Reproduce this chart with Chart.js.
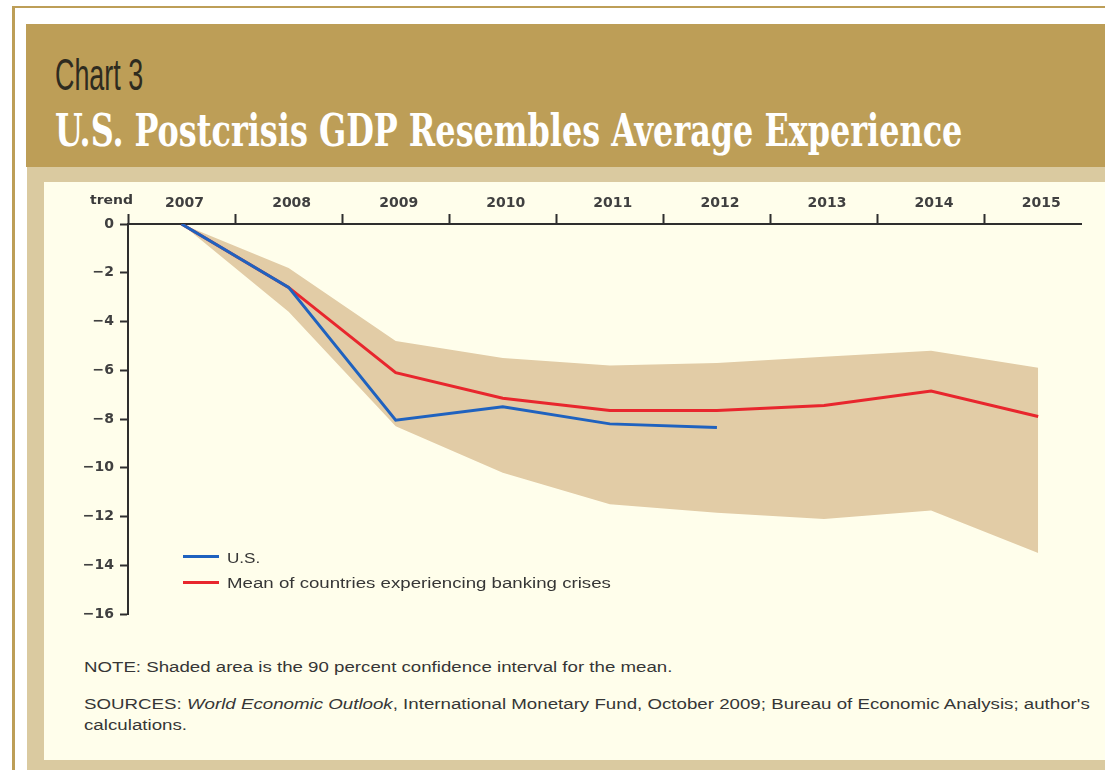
<!DOCTYPE html>
<html>
<head>
<meta charset="utf-8">
<title>Chart 3</title>
<script src="https://cdn.jsdelivr.net/npm/chart.js@4.4.1/dist/chart.umd.min.js"></script>
<style>
    html, body { margin: 0; padding: 0; }
    body { width: 1105px; height: 770px; position: relative; overflow: hidden; background: #ffffff; }
    .abs { position: absolute; }
    .rule-top { left: 12px; top: 6px; width: 1093px; height: 2px; background: #bd9e57; }
    .rule-left { left: 12px; top: 6px; width: 3px; height: 764px; background: #bd9e57; }
    .header { left: 26px; top: 24px; width: 1079px; height: 143px; background: #bd9e57; }
    .frame { left: 27px; top: 167px; width: 1078px; height: 603px; background: #dacaa0; }
    .panel { left: 44px; top: 182px; width: 1061px; height: 578px; background: #fffeeb; }
    .fit { display: inline-block; white-space: nowrap; transform-origin: 0 0; line-height: 1; }
    .kicker { left: 55px; top: 50px; font: 44px "Liberation Sans Narrow", "Liberation Sans", sans-serif; color: #2e2b1f; }
    .title { left: 55px; top: 104px; font: bold 45px "DejaVu Serif Condensed", "DejaVu Serif", serif; color: #ffffff; }
    .note { left: 84px; font: 14px "Liberation Sans", Arial, sans-serif; color: #363636; }
    .unit { left: 90px; top: 192px; font: bold 13px "DejaVu Sans", sans-serif; color: #3a3a3a; }
    .swatch { height: 3px; width: 36px; left: 183px; }
    #chart { left: 44px; top: 182px; }
</style>
</head>
<body>
<div class="abs rule-top"></div>
<div class="abs rule-left"></div>
<div class="abs header"></div>
<div class="abs frame"></div>
<div class="abs panel"></div>

<div class="abs fit kicker" data-w="88">Chart 3</div>
<div class="abs fit title" data-w="907">U.S. Postcrisis GDP Resembles Average Experience</div>

<canvas id="chart" class="abs" width="1061" height="450"></canvas>
<div class="abs fit unit" data-w="43">trend</div>
<div id="legend"></div>

<div class="abs fit note" style="top:659px" data-w="588">NOTE: Shaded area is the 90 percent confidence interval for the mean.</div>
<div class="abs fit note" style="top:696px" data-w="1006">SOURCES: <i>World Economic Outlook</i>, International Monetary Fund, October 2009; Bureau of Economic Analysis; author's</div>
<div class="abs fit note" style="top:717px" data-w="103">calculations.</div>

<script>
// Real GDP relative to pre-crisis trend, percent
const years = [2007, 2008, 2009, 2010, 2011, 2012, 2013, 2014, 2015];
const usGdp = [0, -2.6, -8.05, -7.5, -8.2, -8.35];
const crisisMean = [0, -2.6, -6.1, -7.15, -7.65, -7.65, -7.45, -6.85, -7.9];
const bandUpper = [0, -1.8, -4.8, -5.5, -5.8, -5.7, -5.45, -5.2, -5.9];
const bandLower = [0, -3.6, -8.3, -10.2, -11.5, -11.85, -12.1, -11.75, -13.5];
const yTicks = [0, -2, -4, -6, -8, -10, -12, -14, -16];

const seriesLabels = ['U.S.', 'Mean of countries experiencing banking crises'];
const usColor = '#1f62bf';
const meanColor = '#e8262d';
const bandColor = '#e2cca6';
const axisColor = '#2e2e2e';
const labelColor = '#404040';
const tickFont = { family: 'DejaVu Sans', size: 14, weight: 'bold' };

// year boundaries carry the tick marks, the years themselves carry the labels
const boundaries = years.map(y => y - 0.5);

function toPoints(values) {
    return values.map((v, i) => ({ x: years[i], y: v }));
}

const ctx = document.getElementById('chart').getContext('2d');
const chart = new Chart(ctx, {
    type: 'line',
    data: {
        datasets: [
            {
                label: seriesLabels[0],
                data: toPoints(usGdp),
                borderColor: usColor,
                borderWidth: 3,
                pointRadius: 0,
                tension: 0,
                fill: false,
                order: 0
            },
            {
                label: seriesLabels[1],
                data: toPoints(crisisMean),
                borderColor: meanColor,
                borderWidth: 3,
                pointRadius: 0,
                tension: 0,
                fill: false,
                order: 1
            },
            {
                label: 'upper',
                data: toPoints(bandUpper),
                borderWidth: 0,
                borderColor: 'rgba(0,0,0,0)',
                backgroundColor: bandColor,
                pointRadius: 0,
                tension: 0,
                fill: '+1',
                order: 2
            },
            {
                label: 'lower',
                data: toPoints(bandLower),
                borderWidth: 0,
                borderColor: 'rgba(0,0,0,0)',
                backgroundColor: bandColor,
                pointRadius: 0,
                tension: 0,
                fill: false,
                order: 3
            }
        ]
    },
    options: {
        responsive: false,
        animation: false,
        layout: { padding: { left: 0, top: 0, right: 24, bottom: 18 } },
        plugins: {
            legend: { display: false },
            tooltip: { enabled: false }
        },
        scales: {
            x: {
                type: 'linear',
                position: 'top',
                min: 2006.5,
                max: 2015.4,
                afterBuildTicks: scale => {
                    scale.ticks = [...boundaries, ...years]
                        .sort((a, b) => a - b)
                        .map(v => ({ value: v }));
                },
                afterFit: scale => { scale.height = 42; },
                ticks: {
                    autoSkip: false,
                    maxRotation: 0,
                    padding: 2,
                    labelOffset: 3,
                    color: labelColor,
                    font: tickFont,
                    callback: v => Number.isInteger(v) ? String(v) : ''
                },
                grid: {
                    drawOnChartArea: false,
                    tickLength: 10,
                    tickWidth: 2,
                    tickColor: c => Number.isInteger(c.tick.value) ? 'rgba(0,0,0,0)' : axisColor
                },
                border: { color: axisColor, width: 2 }
            },
            y: {
                type: 'linear',
                min: -16,
                max: 0,
                afterBuildTicks: scale => {
                    scale.ticks = yTicks.map(v => ({ value: v }));
                },
                afterFit: scale => { scale.width = 84; },
                ticks: {
                    padding: 6,
                    color: labelColor,
                    font: tickFont,
                    callback: v => v < 0 ? '\u2212' + Math.abs(v) : String(v)
                },
                grid: {
                    drawOnChartArea: false,
                    tickLength: 8,
                    tickWidth: 2,
                    tickColor: axisColor
                },
                border: { color: axisColor, width: 2 }
            }
        }
    }
});

// Legend rows inside the plot, built from the two line series
const legendRows = [
    { top: 550, lineTop: 555, width: 33 },
    { top: 575, lineTop: 581, width: 384 }
];
const legendEl = document.getElementById('legend');
chart.data.datasets.slice(0, 2).forEach((ds, i) => {
    const row = legendRows[i];
    const sw = document.createElement('div');
    sw.className = 'abs swatch';
    sw.style.top = row.lineTop + 'px';
    sw.style.background = ds.borderColor;
    legendEl.appendChild(sw);
    const txt = document.createElement('div');
    txt.className = 'abs fit note';
    txt.style.left = '227px';
    txt.style.top = row.top + 'px';
    txt.dataset.w = row.width;
    txt.textContent = ds.label;
    legendEl.appendChild(txt);
});

// Squeeze or stretch each text block to its set width
function fitText() {
    document.querySelectorAll('.fit').forEach(el => {
        const w = el.offsetWidth;
        if (w > 0) el.style.transform = `scaleX(${el.dataset.w / w})`;
    });
}
document.fonts.ready.then(fitText);
</script>
</body>
</html>
